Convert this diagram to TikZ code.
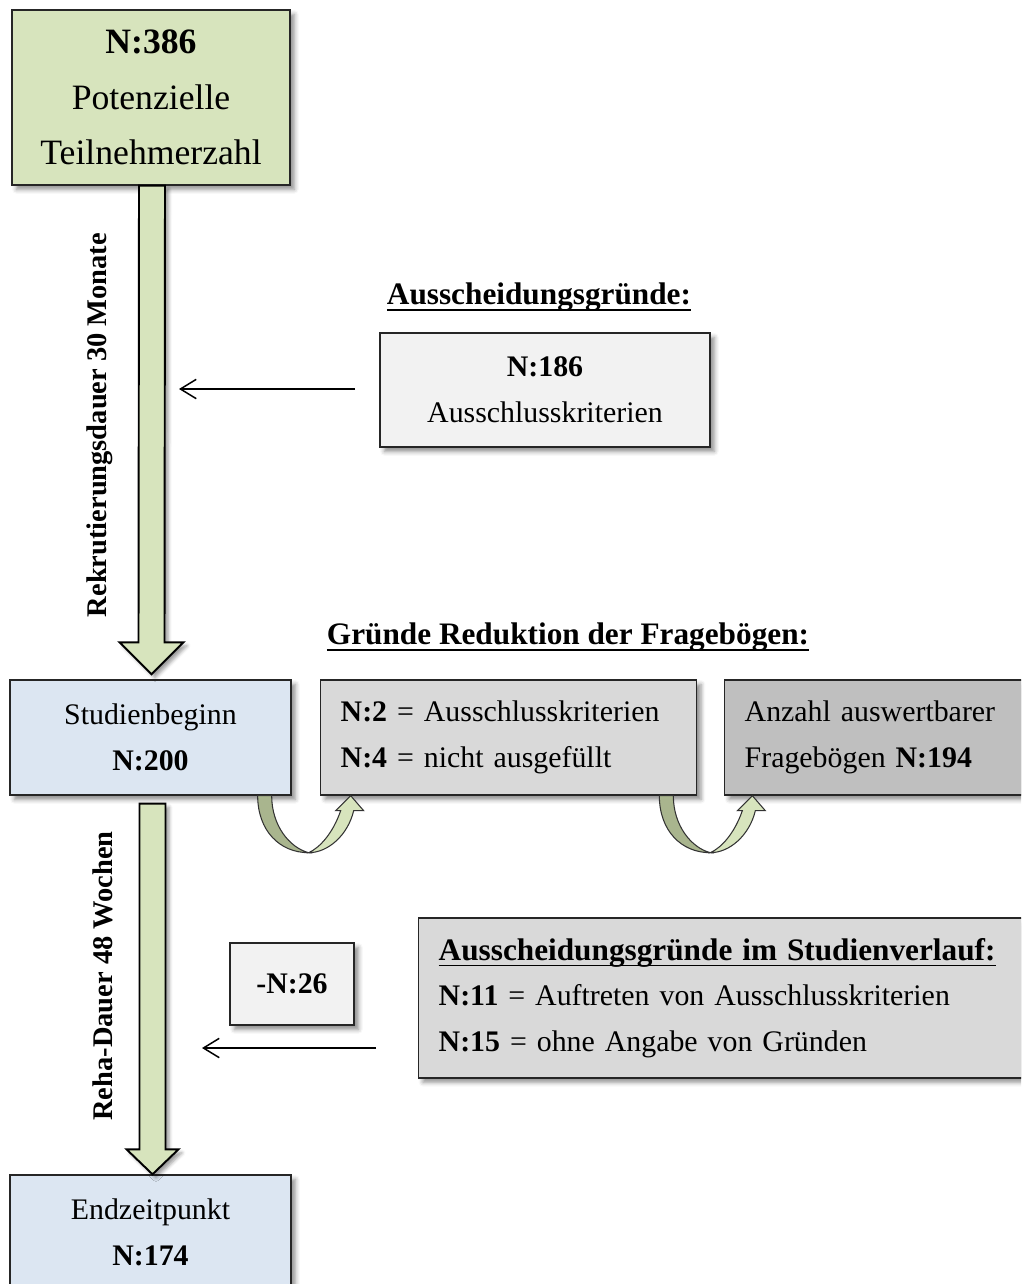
\documentclass[tikz,border=0pt]{standalone}
\usepackage{fontspec}
\setmainfont{Liberation Serif}
\usetikzlibrary{arrows.meta,calc,shadows.blur}

\definecolor{boxgreen}{HTML}{D7E4BD}
\definecolor{backgreen}{HTML}{A9B58E}
\definecolor{boxblue}{HTML}{DCE6F2}
\definecolor{lightgrey}{HTML}{F2F2F2}
\definecolor{midgrey}{HTML}{D9D9D9}
\definecolor{darkgrey}{HTML}{BFBFBF}

\newcommand{\topfont}{\fontsize{20.3}{31.5}\selectfont}
\newcommand{\boxfont}{\fontsize{17}{26}\selectfont}
\newcommand{\sidefont}{\fontsize{16.2}{20}\selectfont}
\newcommand{\headfont}{\fontsize{17.8}{22}\selectfont}
% underline at a fixed depth below the baseline
\newcommand{\ulined}[1]{\setbox0\hbox{#1}\rlap{\vrule height -2.6pt depth 3.5pt width \wd0}\box0}

\tikzset{
  shade box/.style={blur shadow={shadow xshift=2.5pt, shadow yshift=-2.5pt,
      shadow blur radius=2.5pt, shadow opacity=45}},
  flowbox/.style={draw=black!85, line width=0.8pt, shade box, inner sep=0pt,
      align=center, font=\boxfont},
  listbox/.style={flowbox, align=left, anchor=west, inner sep=0.4cm},
  bigarrow/.style={fill=boxgreen, draw=black, line width=1.1pt, line join=miter,
      blur shadow={shadow xshift=2pt, shadow yshift=-2pt, shadow blur radius=2pt, shadow opacity=40}},
  thinarrow/.style={draw=black, line width=0.85pt, -{Straight Barb[length=9pt,width=11pt]}},
  uturn/.pic={
    \filldraw[fill=backgreen, draw=black!80, line width=0.6pt]
      (0,0) .. controls (0,35) and (22,57) .. (51,57)
      .. controls (32,52) and (14,30) .. (14,0) -- cycle;
    \filldraw[fill=boxgreen, draw=black!80, line width=0.6pt]
      (51,57) .. controls (70,57) and (90,40) .. (96,15) -- (106,15) -- (93,0)
      -- (78,15) -- (83,15) .. controls (75,38) and (62,52) .. (51,57) -- cycle;
  }
}

\begin{document}
\begin{tikzpicture}[x=0.02cm, y=-0.02cm]
    \useasboundingbox (0,0) rectangle (1021,1284);
    \clip (0,0) rectangle (1021,1284);

    % main column
    \node[flowbox, fill=boxgreen, font=\topfont, minimum width=5.56cm, minimum height=3.5cm]
        (top) at (151,97.5) {\textbf{N:386}\\Potenzielle\\Teilnehmerzahl};
    \node[flowbox, fill=boxblue, minimum width=5.62cm, minimum height=2.3cm]
        (start) at (150.5,737.5) {Studienbeginn\\\textbf{N:200}};
    \node[flowbox, fill=boxblue, minimum width=5.62cm, minimum height=2.3cm]
        (end) at (150.5,1232.5) {Endzeitpunkt\\\textbf{N:174}};

    % big arrows
    \draw[bigarrow] ($(top.south)+(-12,0)$) -- ($(start.north)+(-12,-37)$)
        -- ($(start.north)+(-31,-37)$) -- ($(start.north)+(1,-5)$)
        -- ($(start.north)+(33,-37)$) -- ($(start.north)+(14,-37)$)
        -- ($(top.south)+(14,0)$) -- cycle;
    \draw[bigarrow] ($(start.south)+(-11,8)$) -- ($(end.north)+(-11,-25)$)
        -- ($(end.north)+(-24,-25)$) -- ($(end.north)+(2,0)$)
        -- ($(end.north)+(28,-25)$) -- ($(end.north)+(15,-25)$)
        -- ($(start.south)+(15,8)$) -- cycle;

    \node[rotate=90, font=\sidefont\bfseries] (recruit) at (100,425) {Rekrutierungsdauer 30 Monate};
    \node[rotate=90, font=\sidefont\bfseries] (rehab) at (103,976) {Reha-Dauer 48 Wochen};

    % exclusion before start
    \node[font=\headfont\bfseries] (exclhead) at (539,297) {\ulined{Ausscheidungsgründe:}};
    \node[flowbox, fill=lightgrey, minimum width=6.6cm, minimum height=2.28cm]
        (excl) at (545,390) {\textbf{N:186}\\Ausschlusskriterien};
    \coordinate (a1s) at (355,389);
    \coordinate (a1e) at (179,389);
    \draw[thinarrow] (a1s) -- (a1e);

    % questionnaires
    \node[font=\headfont\bfseries] (redhead) at (568,637) {\ulined{Gründe Reduktion der Fragebögen:}};
    \node[listbox, fill=midgrey, text width=6.72cm, minimum height=2.3cm]
        (red) at (320,737.5) {\textbf{N:2} = Ausschlusskriterien\\\textbf{N:4} = nicht ausgefüllt};
    \node[listbox, fill=darkgrey, text width=5.5cm, minimum height=2.3cm]
        (eval) at (724,737.5) {Anzahl auswertbarer\\Fragebögen \textbf{N:194}};
    \path ($(start.south east)+(-34,0)$) pic {uturn};
    \path ($(red.south east)+(-38,0)$) pic {uturn};

    % drop-outs during study
    \node[flowbox, fill=lightgrey, font=\boxfont\bfseries, minimum width=2.48cm, minimum height=1.64cm]
        (minus) at (292,984) {-N:26};
    \coordinate (a2s) at (376,1048);
    \coordinate (a2e) at (202,1048);
    \draw[thinarrow] (a2s) -- (a2e);
    \node[listbox, fill=midgrey, text width=11.7cm, minimum height=3.08cm]
        (drop) at (418,998) {{\headfont\bfseries\ulined{Ausscheidungsgründe im Studienverlauf:}}\\
        \textbf{N:11} = Auftreten von Ausschlusskriterien\\\textbf{N:15} = ohne Angabe von Gründen};
\end{tikzpicture}
\end{document}
